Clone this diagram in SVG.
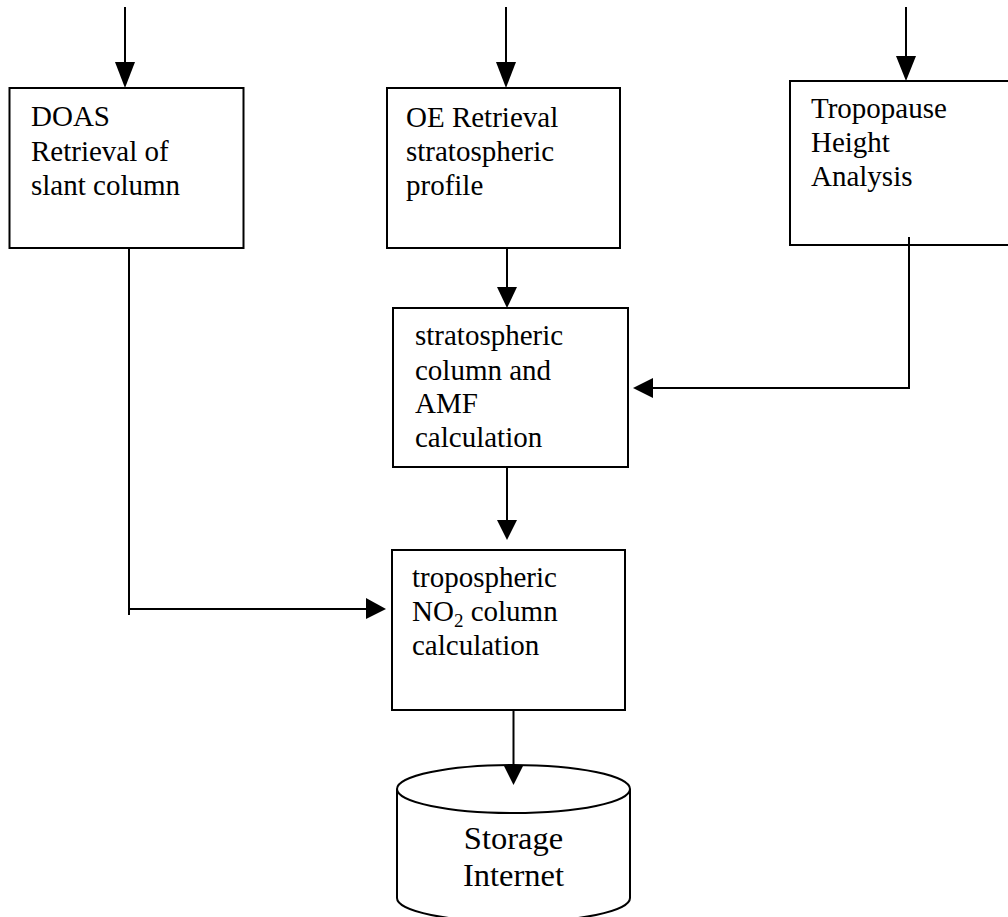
<svg xmlns="http://www.w3.org/2000/svg" width="1008" height="917" viewBox="0 0 1008 917">
<style>
.box{fill:#fff;stroke:#000;stroke-width:2}
.ln{fill:none;stroke:#000;stroke-width:2}
.ah{fill:#000;stroke:none}
text{font-family:"Liberation Serif","Times New Roman",serif;font-size:29px;fill:#000}
.big{font-size:32.5px}
</style>
<rect width="1008" height="917" fill="#fff"/>
<g id="node-doas">
<rect class="box" x="9.5" y="88" width="234" height="160"/>
<text x="31" y="126">DOAS</text>
<text x="31" y="161">Retrieval of</text>
<text x="31" y="195">slant column</text>
</g>
<g id="node-oe">
<rect class="box" x="387" y="88" width="233" height="160"/>
<text x="406" y="127">OE Retrieval</text>
<text x="406" y="161">stratospheric</text>
<text x="406" y="195">profile</text>
</g>
<g id="node-tropopause">
<rect class="box" x="790" y="81" width="230" height="164"/>
<text x="811" y="118">Tropopause</text>
<text x="811" y="152">Height</text>
<text x="811" y="186">Analysis</text>
</g>
<g id="node-strat">
<rect class="box" x="393" y="308" width="235" height="159"/>
<text x="415" y="345">stratospheric</text>
<text x="415" y="380">column and</text>
<text x="415" y="413">AMF</text>
<text x="415" y="447">calculation</text>
</g>
<g id="node-tropo">
<rect class="box" x="392" y="550" width="233" height="160"/>
<text x="412" y="587">tropospheric</text>
<text x="412" y="621">NO<tspan font-size="19" dy="6">2</tspan><tspan dy="-6"> column</tspan></text>
<text x="412" y="655">calculation</text>
</g>
<g id="node-storage">
<path class="box" d="M397,789 L397,898 A116.5,24 0 0 0 630,898 L630,789"/>
<ellipse class="box" cx="513.5" cy="789" rx="116.5" ry="24"/>
<text class="big" x="513.5" y="849" text-anchor="middle">Storage</text>
<text class="big" x="513.5" y="886" text-anchor="middle">Internet</text>
</g>
<g id="connectors">
<line class="ln" x1="125" y1="7" x2="125" y2="66"/>
<polygon class="ah" points="115,62 135,62 125,88"/>
<line class="ln" x1="506" y1="7" x2="506" y2="66"/>
<polygon class="ah" points="496,62 516,62 506,88"/>
<line class="ln" x1="906" y1="7" x2="906" y2="60"/>
<polygon class="ah" points="896,56 916,56 906,81"/>
<line class="ln" x1="507" y1="248" x2="507" y2="290"/>
<polygon class="ah" points="497,287 517,287 507,308"/>
<polyline class="ln" points="909,237 909,388 650,388"/>
<polygon class="ah" points="653,378 653,398 633,388"/>
<line class="ln" x1="507" y1="467" x2="507" y2="522"/>
<polygon class="ah" points="497,520 517,520 507,540"/>
<line class="ln" x1="129" y1="248" x2="129" y2="615"/>
<line class="ln" x1="129" y1="609" x2="368" y2="609"/>
<polygon class="ah" points="366,598 366,619 386,609"/>
<line class="ln" x1="513.5" y1="710" x2="513.5" y2="768"/>
<polygon class="ah" points="503.5,765 523.5,765 513.5,785"/>
</g>
</svg>
